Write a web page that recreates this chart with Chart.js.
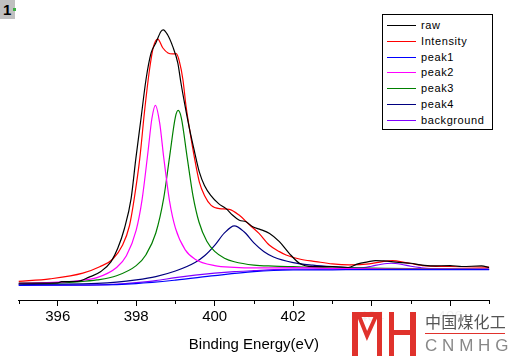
<!DOCTYPE html>
<html>
<head>
<meta charset="utf-8">
<script src="https://cdn.jsdelivr.net/npm/chart.js@4.4.1/dist/chart.umd.min.js"></script>
<style>
    body { margin: 0; background: #fff; }
    #wrap { position: relative; width: 510px; height: 361px; overflow: hidden; font-family: Arial, "Liberation Sans", sans-serif; }
    #xpsChart { position: absolute; left: 0; top: 0; }
    #badge { position: absolute; left: 0; top: 0; width: 15px; height: 19px; background: #c0c0c0; font: bold 15px Arial, "Liberation Sans", sans-serif; line-height: 19px; text-indent: 3px; }
    #badge i { position: absolute; left: 13px; top: 8px; width: 3px; height: 3px; background: #3cb043; }
    #legend { position: absolute; left: 382px; top: 14px; width: 109px; height: 114px; border: 1px solid #000; background: #fff; }
    #legend .row { position: absolute; left: 0; width: 109px; height: 14px; }
    #legend .line { position: absolute; left: 4px; top: 7px; width: 29px; height: 0; border-top: 1px solid #000; }
    #legend .txt { position: absolute; left: 38px; top: 0; font-size: 11px; line-height: 14px; letter-spacing: 0.6px; white-space: nowrap; }
    #logo { position: absolute; left: 350px; top: 308px; width: 160px; height: 53px; }
    #logo .cn { position: absolute; left: 75px; top: 3px; font: 16px "Noto Sans CJK SC", sans-serif; line-height: 20px; color: #555; letter-spacing: 0.2px; }
    #logo .bar { position: absolute; left: 75px; top: 25px; width: 80px; height: 1px; background: #e0322c; }
    #logo .en { position: absolute; left: 75px; top: 28px; font: 17px Arial, "Liberation Sans", sans-serif; line-height: 20px; color: #888; letter-spacing: 4.8px; }
</style>
</head>
<body>
<div id="wrap">
    <canvas id="xpsChart" width="510" height="361"></canvas>
    <div id="badge">1<i></i></div>
    <div id="legend"></div>
    <div id="logo">
        <svg width="75" height="53" viewBox="350 308 75 53">
            <g fill="#e0322c">
                <rect x="352" y="312" width="6" height="44"/>
                <rect x="352" y="312" width="30" height="5"/>
                <rect x="377" y="312" width="5" height="44"/>
                <rect x="389" y="312" width="5" height="44"/>
                <rect x="410" y="312" width="6" height="44"/>
                <rect x="389" y="330" width="27" height="5"/>
            </g>
            <polyline points="359,316 367,336 376,316" fill="none" stroke="#e0322c" stroke-width="4"/>
        </svg>
        <div class="cn">中国煤化工</div>
        <div class="bar"></div>
        <div class="en">CNMHG</div>
    </div>
</div>
<script>
// tick labels on the energy axis (404 / 406 sit under the logo)
const tickValues = [396, 398, 400, 402, 404, 406];
const fadedTicks = [404, 406];
const minorTicks = [395, 397, 399, 401, 403, 405, 407];

// raw spectrum
const rawEnergy = [395.0, 395.5, 396.0, 396.1, 396.5, 396.8, 397.1, 397.36, 397.53, 397.7, 397.87, 397.99, 398.12, 398.25, 398.38, 398.5, 398.63, 398.69, 398.8, 398.93, 399.06, 399.14, 399.23, 399.36, 399.49, 399.61, 399.74, 399.9, 400.1, 400.29, 400.46, 400.63, 400.8, 400.97, 401.14, 401.4, 401.65, 401.9, 402.16, 402.5, 403.0, 403.4, 403.65, 403.9, 404.1, 404.3, 404.5, 404.75, 405.0, 405.25, 405.55, 406.0, 406.3, 406.8, 407.0];
const rawCounts = [17, 17, 17.2, 18.5, 18.7, 23, 28.7, 38.7, 52, 72, 102, 142, 182, 222, 248.7, 258.7, 270.3, 272, 267, 255.3, 238.7, 218.7, 198.7, 172, 148.7, 128.7, 115.3, 105.3, 97, 92, 85.3, 80.3, 78.7, 73.7, 71.3, 67, 58.7, 47, 37, 33.7, 33.7, 32.7, 36.3, 38.3, 39.7, 39.3, 38.7, 37.7, 37, 35.3, 34.3, 34.7, 33.7, 34.3, 32.7];

// fitted envelope
const fitEnergy = [395.0, 395.8, 396.64, 397.07, 397.4, 397.65, 397.83, 397.95, 398.09, 398.21, 398.34, 398.44, 398.55, 398.68, 398.81, 398.93, 399.02, 399.1, 399.19, 399.27, 399.36, 399.49, 399.61, 399.74, 399.91, 400.12, 400.37, 400.63, 400.88, 401.13, 401.39, 401.65, 401.82, 402.16, 402.58, 403.0, 403.43, 403.94, 404.28, 404.53, 404.87, 405.3, 405.98, 407.0];
const fitCounts = [18.7, 21.3, 27, 33.5, 41, 55, 75, 102, 142, 189, 232, 255, 262.7, 253.7, 248.7, 247.7, 248, 240.3, 222, 195.3, 172, 142, 118.7, 105.3, 95.3, 92, 91.3, 85.3, 76, 67, 55.3, 48.7, 45.3, 41.3, 38.7, 36.3, 35.3, 36.3, 38.7, 39.7, 37.7, 34.7, 33.7, 33];

// peak components (drawn on top of the background)
const peak1Energy = [395, 397, 398, 399, 400, 401, 401.5, 402, 403, 404, 405, 406, 407];
const peak1Counts = [14.8, 15.1, 16.5, 20, 24.5, 28.5, 29.7, 30.2, 30.4, 30.6, 30.6, 30.5, 30.5];

const peak2Energy = [395, 396, 396.5, 397, 397.5, 397.75, 398, 398.15, 398.3, 398.4, 398.49, 398.6, 398.7, 398.85, 399, 399.25, 399.5, 400, 400.5, 401, 402, 403, 404, 405, 406, 407];
const peak2Counts = [16.5, 17.9, 19.4, 22.5, 32.7, 44.5, 70.3, 101, 149, 182.7, 196, 177.8, 144, 99.5, 72.3, 50.4, 41.1, 34.6, 32.9, 32.3, 32.5, 31.9, 31.3, 31.2, 31, 31];

const peak3Energy = [395, 396, 396.5, 397, 397.5, 398, 398.25, 398.5, 398.7, 398.85, 399, 399.07, 399.15, 399.3, 399.45, 399.6, 399.8, 400, 400.25, 400.5, 401, 401.5, 402, 403, 404, 405, 406, 407];
const peak3Counts = [16.3, 17.3, 18.3, 20.2, 24.4, 34.6, 45.6, 67.4, 102.2, 143.9, 184.3, 190.8, 183.4, 143.3, 104.3, 78.5, 59.1, 48.9, 42.1, 38.5, 35.1, 34.1, 33.5, 32.4, 32, 31.6, 31.4, 31.2];

const peak4Energy = [395, 396, 397, 397.5, 398, 398.5, 399, 399.5, 399.75, 400, 400.25, 400.5, 400.75, 401, 401.25, 401.5, 402, 402.5, 403, 404, 405, 406, 407];
const peak4Counts = [15.6, 15.9, 16.7, 17.9, 20.2, 23.6, 29.2, 37.8, 44.8, 55, 67.5, 74.7, 68.7, 57.5, 48.8, 43.3, 37.7, 35.1, 33.5, 31.5, 31, 30.8, 30.7];

const bgEnergy = [395, 396, 397, 397.5, 398, 398.5, 399, 399.5, 400, 400.5, 401, 401.5, 402, 403, 403.5, 403.8, 404, 404.25, 404.5, 404.75, 405, 405.25, 405.5, 406, 407];
const bgCounts = [15, 15, 15.3, 16, 17.5, 19.5, 22.5, 25, 27, 28.5, 29.5, 30.5, 31, 31.2, 31.5, 32.5, 34, 36, 37, 36, 34, 32.5, 31.5, 31.2, 31.2];

function toPoints(xs, ys) {
    return xs.map((x, i) => ({ x: x, y: ys[i] }));
}

function series(label, xs, ys, color) {
    return {
        label: label,
        data: toPoints(xs, ys),
        borderColor: color,
        backgroundColor: color,
        borderWidth: 1.2,
        pointRadius: 0,
        fill: false,
        cubicInterpolationMode: 'monotone'
    };
}

// short ticks between the labelled ones
const minorTickPlugin = {
    id: 'minorTicks',
    afterDraw(chart) {
        const ctx = chart.ctx;
        const xScale = chart.scales.x;
        const bottom = chart.chartArea.bottom;
        ctx.save();
        ctx.strokeStyle = '#000';
        ctx.lineWidth = 1;
        minorTicks.forEach(v => {
            const px = Math.round(xScale.getPixelForValue(v)) + 0.5;
            ctx.beginPath();
            ctx.moveTo(px, bottom);
            ctx.lineTo(px, bottom + 4);
            ctx.stroke();
        });
        ctx.restore();
    }
};

const ctx = document.getElementById('xpsChart').getContext('2d');
const xpsChart = new Chart(ctx, {
    type: 'line',
    data: {
        datasets: [
            series('raw', rawEnergy, rawCounts, '#000000'),
            series('Intensity', fitEnergy, fitCounts, '#ff0000'),
            series('peak1', peak1Energy, peak1Counts, '#0000ff'),
            series('peak2', peak2Energy, peak2Counts, '#ff00ff'),
            series('peak3', peak3Energy, peak3Counts, '#008000'),
            series('peak4', peak4Energy, peak4Counts, '#000080'),
            series('background', bgEnergy, bgCounts, '#8000ff')
        ]
    },
    options: {
        responsive: false,
        animation: false,
        devicePixelRatio: 1,
        layout: { padding: { left: 18.5, right: 20.7, top: 0, bottom: 7 } },
        plugins: {
            legend: { display: false },
            tooltip: { enabled: false }
        },
        scales: {
            x: {
                type: 'linear',
                min: 395,
                max: 407,
                afterBuildTicks: (scale) => {
                    scale.ticks = tickValues.map(v => ({ value: v }));
                },
                border: { display: true, color: '#000', width: 1 },
                grid: { drawOnChartArea: false, tickLength: 6, color: '#000' },
                ticks: {
                    autoSkip: false,
                    maxRotation: 0,
                    padding: 2,
                    font: { family: 'Arial, "Liberation Sans"', size: 15 },
                    color: (c) => fadedTicks.includes(c.tick.value) ? '#f0f0f0' : '#000',
                    callback: (v) => String(v)
                },
                title: {
                    display: true,
                    text: 'Binding Energy(eV)',
                    color: '#000',
                    font: { family: 'Arial, "Liberation Sans"', size: 15 },
                    padding: { top: 8, bottom: 0 }
                }
            },
            y: {
                display: false,
                min: 0,
                max: 302
            }
        }
    },
    plugins: [minorTickPlugin]
});

// legend box built from the datasets
const legendBox = document.getElementById('legend');
xpsChart.data.datasets.forEach((ds, i) => {
    const row = document.createElement('div');
    row.className = 'row';
    row.style.top = Math.round(3 + i * 15.8) + 'px';
    const sample = document.createElement('div');
    sample.className = 'line';
    sample.style.borderTopColor = ds.borderColor;
    const txt = document.createElement('div');
    txt.className = 'txt';
    txt.textContent = ds.label;
    row.appendChild(sample);
    row.appendChild(txt);
    legendBox.appendChild(row);
});
</script>
</body>
</html>
